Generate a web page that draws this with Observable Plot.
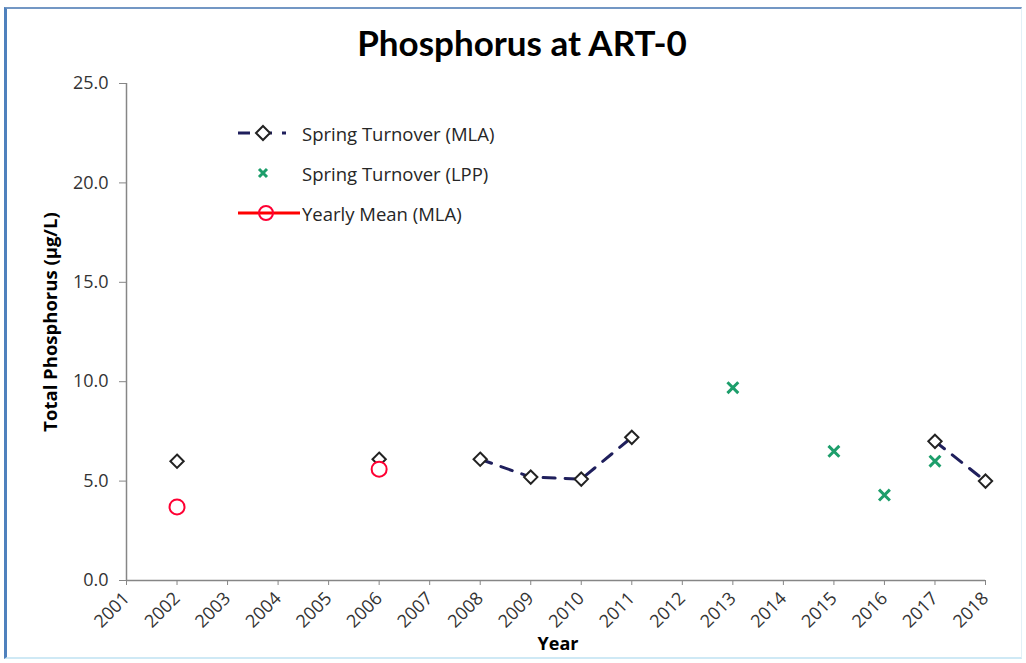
<!DOCTYPE html>
<html><head><meta charset="utf-8">
<script src="https://cdn.jsdelivr.net/npm/d3@7"></script>
<script src="https://cdn.jsdelivr.net/npm/@observablehq/plot@0.6"></script>
<style>
body{margin:0;background:#fff;}
#wrap{position:relative;width:1026px;height:663px;overflow:hidden;font-family:"Open Sans",Lato,sans-serif;}
#frame{position:absolute;left:4px;top:7px;width:1018px;height:652px;border-left:3px solid #4f81bd;border-top:2px solid #7397c4;border-bottom:2px solid #cfe9f5;border-right:1px solid #e3f0f7;box-sizing:border-box;pointer-events:none;}
#title{position:absolute;left:0;width:1044px;top:21px;text-align:center;font-family:Lato,sans-serif;font-weight:bold;font-size:35px;color:#000;}
#legend{position:absolute;left:236px;top:113px;font-size:18.5px;color:#262626;}
.row{display:flex;align-items:center;height:40px;}
.row svg{width:66px;height:26px;}
#chart{position:absolute;left:0;top:0;}
</style></head>
<body><div id="wrap">
<div id="chart"></div>
<div id="frame"></div>
<div id="title">Phosphorus at ART-0</div>
<div id="legend">
 <div class="row"><svg viewBox="0 0 66 26"><line x1="2" y1="13" x2="50" y2="13" stroke="#1f1f5c" stroke-width="3" stroke-dasharray="12,10"/><path d="M27,6 L34,13 L27,20 L20,13 Z" fill="#fff" stroke="#222" stroke-width="2"/></svg><span>Spring Turnover (MLA)</span></div>
 <div class="row"><svg viewBox="0 0 66 26"><path d="M27,13 m-4,-4 l8,8 m0,-8 l-8,8" stroke="#1d9e6b" stroke-width="3" fill="none"/></svg><span>Spring Turnover (LPP)</span></div>
 <div class="row"><svg viewBox="0 0 66 26"><line x1="2" y1="13" x2="64" y2="13" stroke="#ff0000" stroke-width="3"/><circle cx="30" cy="13" r="7" fill="none" stroke="#ff0033" stroke-width="2"/></svg><span>Yearly Mean (MLA)</span></div>
</div>
</div>
<script>
const years = [2001,2002,2003,2004,2005,2006,2007,2008,2009,2010,2011,2012,2013,2014,2015,2016,2017,2018];
const yTicks = [0,5,10,15,20,25];
const mlaYears = [2002,2006,2008,2009,2010,2011,2017,2018];
const mlaValues = [6.0,6.1,6.1,5.2,5.1,7.2,7.0,5.0];
const lppYears = [2013,2015,2016,2017];
const lppValues = [9.7,6.5,4.3,6.0];
const meanYears = [2002,2006];
const meanValues = [3.7,5.6];

const mla = mlaYears.map((y,i)=>({year:y, v:mlaValues[i]}));
const mlaLine = years.map(y=>{const i=mlaYears.indexOf(y); return {year:y, v: i<0?null:mlaValues[i]};});
const lpp = lppYears.map((y,i)=>({year:y, v:lppValues[i]}));
const mean = meanYears.map((y,i)=>({year:y, v:meanValues[i]}));

const axisColor = "#868686";
const plot = Plot.plot({
  width:1026, height:663,
  marginLeft:126, marginRight:41, marginTop:83, marginBottom:83,
  style:{fontFamily:"'Open Sans', Lato, sans-serif", fontSize:"18px", color:"#333", background:"transparent"},
  x:{domain:[2001,2018]},
  y:{domain:[0,25]},
  marks:[
    Plot.ruleX([2001],{stroke:axisColor, strokeWidth:1.5}),
    Plot.ruleY([0],{stroke:axisColor, strokeWidth:1.5}),
    Plot.axisY({ticks:yTicks, tickFormat:d=>d.toFixed(1), tickSize:7, tickPadding:11, stroke:axisColor, label:null, fontSize:18}),
    Plot.axisX({ticks:years, tickFormat:d=>String(d), tickSize:5, tickPadding:10, tickRotate:-45, stroke:axisColor, label:null, fontSize:18}),
    Plot.text(["Total Phosphorus (µg/L)"],{frameAnchor:"left", textAnchor:"middle", dx:-75, dy:-10, rotate:-90, fontWeight:"bold", fontSize:18.5, fill:"#000"}),
    Plot.text(["Year"],{frameAnchor:"bottom", dy:69, dx:2, fontWeight:"bold", fontSize:18, fill:"#000"}),
    Plot.line(mlaLine,{x:"year", y:"v", stroke:"#1f1f5c", strokeWidth:3, strokeDasharray:"12,10"}),
    Plot.dot(mla,{x:"year", y:"v", symbol:"diamond2", r:6, fill:"#fff", stroke:"#222", strokeWidth:2}),
    Plot.dot(lpp,{x:"year", y:"v", symbol:"times", r:5, stroke:"#1d9e6b", strokeWidth:3}),
    Plot.dot(mean,{x:"year", y:"v", symbol:"circle", r:7.5, fill:"#fff", stroke:"#ff0033", strokeWidth:2})
  ]
});
document.getElementById("chart").appendChild(plot);
</script>
</body></html>
